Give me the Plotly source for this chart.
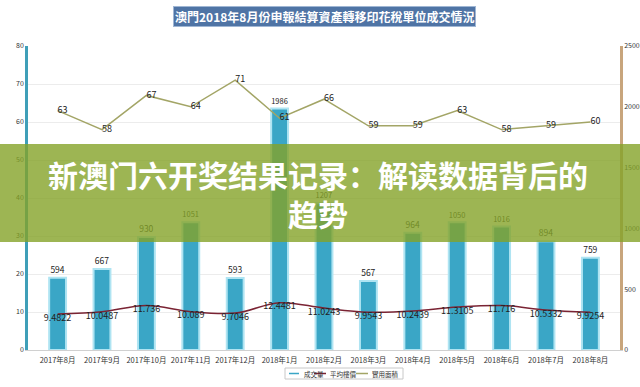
import plotly.graph_objects as go

months = ["2017年8月", "2017年9月", "2017年10月", "2017年11月", "2017年12月", "2018年1月",
          "2018年2月", "2018年3月", "2018年4月", "2018年5月", "2018年6月", "2018年7月", "2018年8月"]
volume = [594, 667, 930, 1051, 593, 1986, 1207, 567, 964, 1050, 1016, 894, 759]
avg_price = [9.4822, 10.0487, 11.736, 10.089, 9.7046, 12.4481, 11.0243, 9.9543, 10.2439,
             11.3105, 11.716, 10.5332, 9.9254]
area = [63, 58, 67, 64, 71, 61, 66, 59, 59, 63, 58, 59, 60]

title_text = "澳門2018年8月份申報結算資產轉移印花稅單位成交情況"
banner_line1 = "新澳门六开奖结果记录：解读数据背后的"
banner_line2 = "趋势"
legend_names = ["成交量", "平均樓價", "實用面積"]

BAR_C = "#3aa6c6"
RED_C = "#7a2333"
OLV_C = "#a3a566"
FONT = "Noto Sans CJK TC, Noto Sans, sans-serif"

fig = go.Figure()
fig.add_trace(go.Bar(
    x=months, y=volume, name=legend_names[0], yaxis="y",
    marker=dict(color=BAR_C, line=dict(color="rgba(175,228,242,1)", width=2)),
    width=0.38, text=[str(v) for v in volume], textposition="outside",
    textfont=dict(size=8.5, color="#222"), cliponaxis=False, showlegend=False))
fig.add_trace(go.Scatter(
    x=months, y=avg_price, name=legend_names[1], yaxis="y2", mode="lines+text",
    line=dict(color=RED_C, width=1.5, shape="spline"),
    text=[f"{v:g}" for v in avg_price], textposition="bottom center",
    textfont=dict(size=9, color="#222"), cliponaxis=False, showlegend=False))
fig.add_trace(go.Scatter(
    x=months, y=area, name=legend_names[2], yaxis="y2", mode="lines+text",
    line=dict(color=OLV_C, width=1.5),
    text=[str(v) for v in area], textposition="middle right",
    textfont=dict(size=9, color="#222"), cliponaxis=False, showlegend=False))

# plot area pixel geometry
L, R, T, B = 28, 620, 46, 350
W, H = R - L, B - T
def px(x):
    return (x - L) / W
def py(y):
    return (B - y) / H

shapes = []
annotations = []

# title
annotations.append(dict(
    text=f"<b>{title_text}</b>", x=px(324), y=py(17), xref="paper", yref="paper",
    xanchor="center", yanchor="middle",
    showarrow=False, font=dict(size=12, color="white", family="Noto Sans CJK TC"),
    bgcolor="#4f74a5", bordercolor="#9fb6d4", borderwidth=1, borderpad=1))

# manual legend
shapes.append(dict(type="rect", xref="paper", yref="paper", x0=px(285), x1=px(403),
                   y0=py(368), y1=py(379), line=dict(color="#c8c8c8", width=1),
                   fillcolor="white", layer="above"))
items = [(289, 299, 302, BAR_C), (314, 326, 328, RED_C), (356, 368, 370, OLV_C)]
for (lx0, lx1, tx, c), name in zip(items, legend_names):
    shapes.append(dict(type="line", xref="paper", yref="paper", x0=px(lx0), x1=px(lx1),
                       y0=py(373.5), y1=py(373.5), line=dict(color=c, width=1.5), layer="above"))
    annotations.append(dict(text=name, x=px(tx), y=py(373.5), xref="paper", yref="paper",
                            xanchor="left", yanchor="middle", showarrow=False,
                            font=dict(size=6.5, color="#333", family=FONT)))

# banner overlay
shapes.append(dict(type="rect", xref="paper", yref="paper", x0=px(0), x1=px(640),
                   y0=py(144), y1=py(242), line=dict(width=0),
                   fillcolor="rgba(132,162,40,0.8)", layer="above"))
annotations.append(dict(text=f"<b>{banner_line1}<br>{banner_line2}</b>", x=px(318), y=py(193),
                        xref="paper", yref="paper", xanchor="center", yanchor="middle",
                        showarrow=False, align="center",
                        font=dict(size=30, color="white", family="Noto Sans CJK SC")))

fig.update_layout(
    width=640, height=387,
    margin=dict(l=L, r=640 - R, t=T, b=387 - B, autoexpand=False),
    paper_bgcolor="white", plot_bgcolor="white",
    font=dict(family=FONT, color="#333"),
    xaxis=dict(type="category", showgrid=False, showline=True, linecolor="#d0d0d0",
               linewidth=1, ticks="", tickangle=0, automargin=False, ticklabelstandoff=3,
               tickfont=dict(size=7.5, color="#333")),
    yaxis=dict(side="right", range=[0, 2500], dtick=500, showgrid=False, automargin=False,
               showline=True, linecolor="#c8a57c", linewidth=2.5, ticks="",
               tickfont=dict(size=7, color="#333"), zeroline=False),
    yaxis2=dict(side="left", overlaying="y", range=[0, 80], dtick=10, automargin=False,
                showgrid=True, gridcolor="#ececec", gridwidth=1,
                showline=True, linecolor="#3f9fb8", linewidth=2.5, ticks="",
                tickfont=dict(size=7, color="#333"), zeroline=False),
    shapes=shapes, annotations=annotations, showlegend=False,
)

fig.write_html("out.html", config={"displayModeBar": False},
               post_script="document.body.style.margin='0';document.body.style.padding='0';")
